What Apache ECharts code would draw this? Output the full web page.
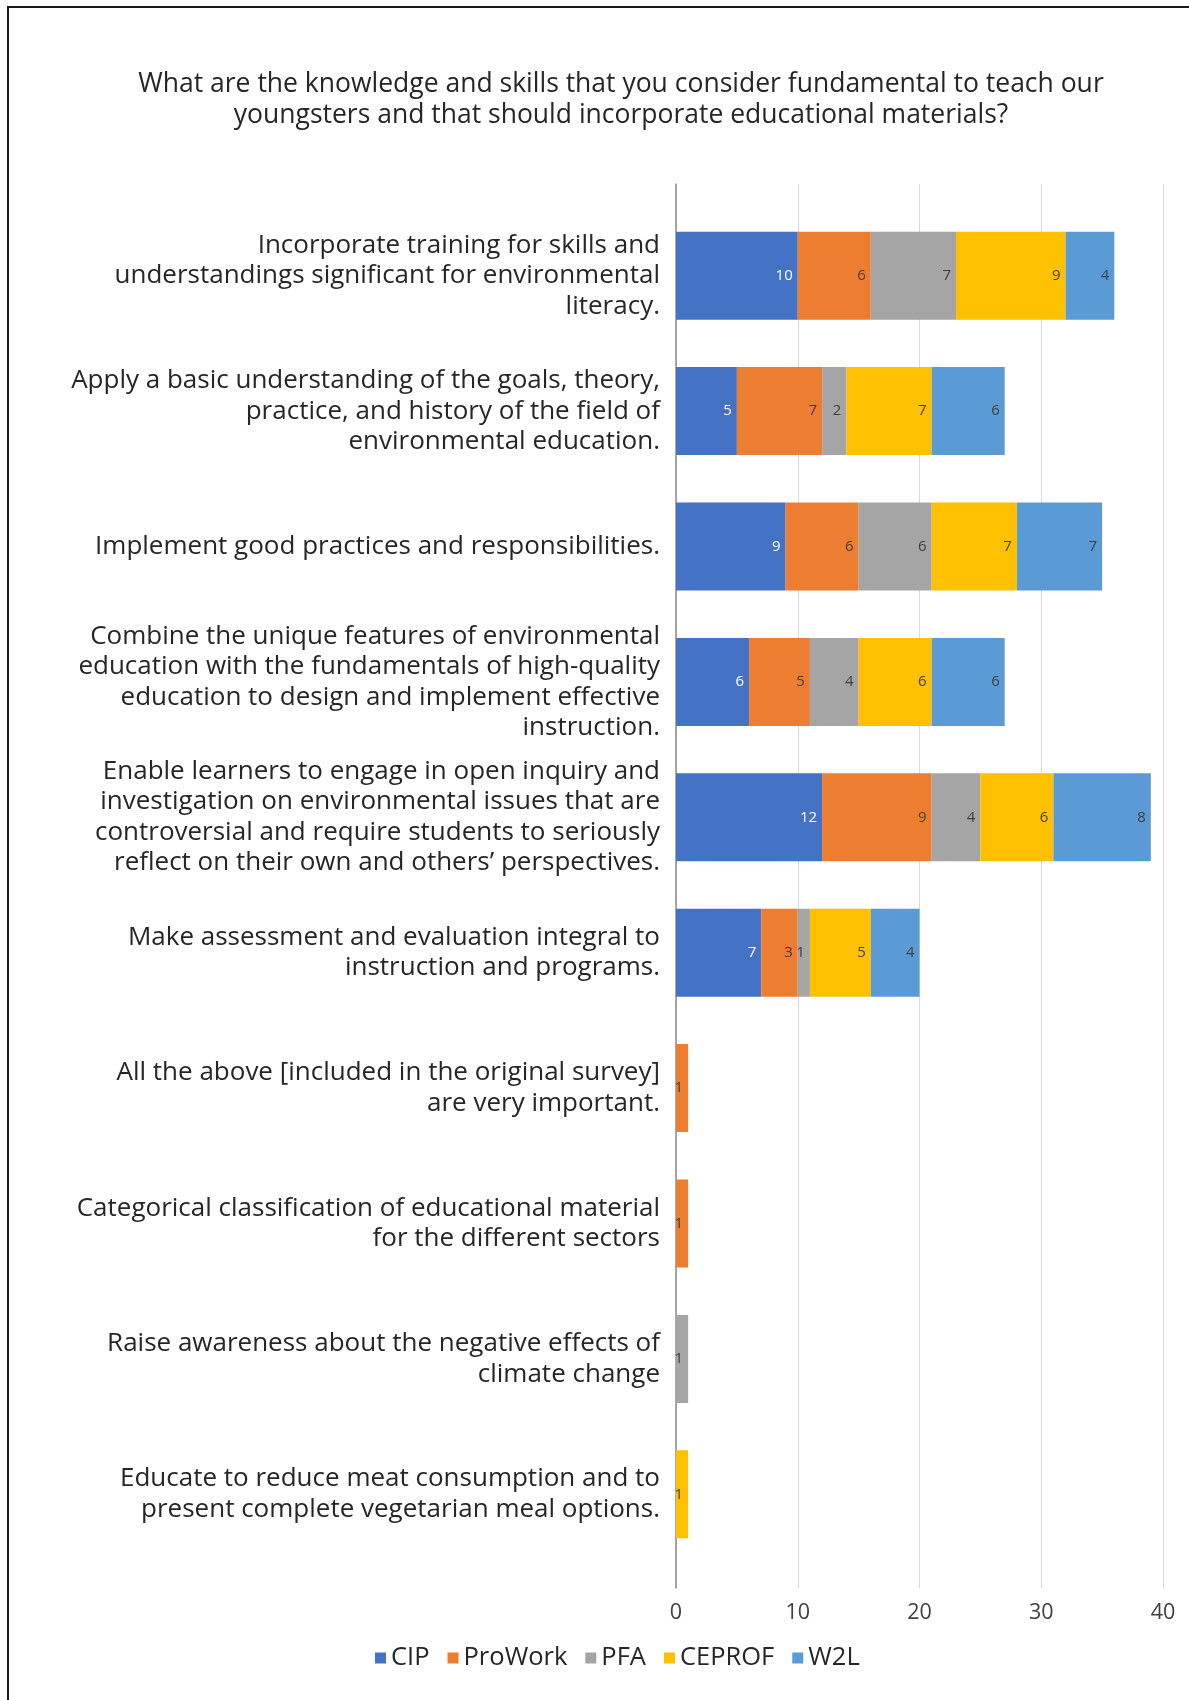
<!DOCTYPE html>
<html>
<head>
<meta charset="utf-8">
<script src="https://cdn.jsdelivr.net/npm/echarts@6/dist/echarts.min.js"></script>
<style>
  html, body { margin: 0; padding: 0; background: #fff; overflow: hidden; }
  #frame {
    position: absolute; left: 7px; top: 6px;
    width: 1300px; height: 1800px;
    border: 2px solid #1a1a1a; box-sizing: border-box;
  }
  #chart { position: absolute; left: 0; top: 0; width: 1189px; height: 1700px; }
</style>
</head>
<body>
<div id="frame"></div>
<div id="chart"></div>
<script>
const categories = [
  'Incorporate training for skills and\nunderstandings significant for environmental\nliteracy.',
  'Apply a basic understanding of the goals, theory,\npractice, and history of the field of\nenvironmental education.',
  'Implement good practices and responsibilities.',
  'Combine the unique features of environmental\neducation with the fundamentals of high-quality\neducation to design and implement effective\ninstruction.',
  'Enable learners to engage in open inquiry and\ninvestigation on environmental issues that are\ncontroversial and require students to seriously\nreflect on their own and others\u2019 perspectives.',
  'Make assessment and evaluation integral to\ninstruction and programs.',
  'All the above [included in the original survey]\nare very important.',
  'Categorical classification of educational material\nfor the different sectors',
  'Raise awareness about the negative effects of\nclimate change',
  'Educate to reduce meat consumption and to\npresent complete vegetarian meal options.'
]

const cip     = [10, 5, 9, 6, 12, 7, 0, 0, 0, 0]
const proWork = [6, 7, 6, 5, 9, 3, 1, 1, 0, 0]
const pfa     = [7, 2, 6, 4, 4, 1, 0, 0, 1, 0]
const ceprof  = [9, 7, 7, 6, 6, 5, 0, 0, 0, 1]
const w2l     = [4, 6, 7, 6, 8, 4, 0, 0, 0, 0]

const xTicks = [0, 10, 20, 30, 40]

const FONT = '"Open Sans", "Noto Sans", sans-serif'

const makeSeries = (name, data, color, labelColor) => ({
  name: name,
  type: 'bar',
  stack: 'total',
  xAxisIndex: 1,
  yAxisIndex: 1,
  data: data,
  barWidth: '65%',
  itemStyle: { color: color },
  label: {
    show: true,
    position: 'insideRight',
    distance: 5,
    color: labelColor,
    fontSize: 15,
    fontFamily: FONT,
    formatter: p => (p.value ? String(p.value) : '')
  }
})

const myChart = echarts.init(document.getElementById('chart'))
myChart.setOption({
  animation: false,
  textStyle: { fontFamily: FONT },
  title: {
    text: 'What are the knowledge and skills that you consider fundamental to teach our\nyoungsters and that should incorporate educational materials?',
    left: 616,
    top: 64,
    textAlign: 'center',
    textStyle: {
      color: '#262626',
      fontSize: 26.5,
      fontWeight: 'normal',
      lineHeight: 31,
      fontFamily: FONT
    }
  },
  legend: {
    left: 370,
    top: 1640,
    icon: 'rect',
    itemWidth: 11,
    itemHeight: 11,
    itemGap: 18,
    textStyle: { color: '#262626', fontSize: 25.5, fontFamily: FONT }
  },
  grid: [
    // frame: gridlines, axis line, tick labels
    { left: 676, right: 26, top: 184, bottom: 112, containLabel: false },
    // bars and category labels
    { left: 676, right: 26, top: 208, bottom: 138, containLabel: false }
  ],
  xAxis: [{
    gridIndex: 0,
    type: 'value',
    min: xTicks[0],
    max: xTicks[xTicks.length - 1],
    interval: 10,
    axisLine: { show: false },
    axisTick: { show: false },
    axisLabel: { color: '#404040', fontSize: 21.5, margin: 14, fontFamily: FONT },
    splitLine: { lineStyle: { color: '#d9d9d9', width: 1 } }
  }, {
    gridIndex: 1,
    type: 'value',
    min: xTicks[0],
    max: xTicks[xTicks.length - 1],
    interval: 10,
    show: false,
    splitLine: { show: false }
  }],
  yAxis: [{
    gridIndex: 0,
    type: 'category',
    data: categories,
    axisLine: { show: true, lineStyle: { color: '#8c8c8c', width: 1.5 } },
    axisTick: { show: false },
    axisLabel: { show: false }
  }, {
    gridIndex: 1,
    type: 'category',
    inverse: true,
    data: categories,
    axisLine: { show: false },
    axisTick: { show: false },
    axisLabel: {
      color: '#262626',
      fontSize: 26,
      lineHeight: 30.5,
      margin: 16,
      align: 'right',
      fontFamily: FONT
    }
  }],
  series: [
    makeSeries('CIP', cip, '#4472C4', '#ffffff'),
    makeSeries('ProWork', proWork, '#ED7D31', '#404040'),
    makeSeries('PFA', pfa, '#A5A5A5', '#404040'),
    makeSeries('CEPROF', ceprof, '#FFC000', '#404040'),
    makeSeries('W2L', w2l, '#5B9BD5', '#404040')
  ]
})
</script>
</body>
</html>
